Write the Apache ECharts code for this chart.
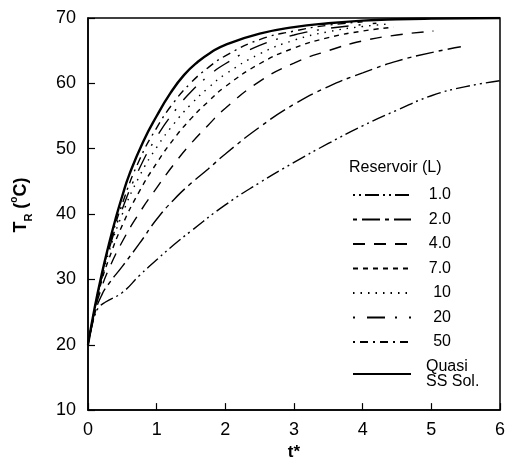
<!DOCTYPE html>
<html>
<head>
<meta charset="utf-8">
<script src="https://cdn.jsdelivr.net/npm/echarts@6/dist/echarts.min.js"></script>
<style>
  html, body { margin: 0; padding: 0; background: #fff; }
  #chart { width: 512px; height: 466px; }
</style>
</head>
<body>
<div id="chart"></div>
<script>
// Reservoir temperature T_R (°C) against dimensionless time t*
const seriesNames = ['1.0', '2.0', '4.0', '7.0', '10', '20', '50', 'Quasi SS Sol.'];

const res1 = [[0,20],[0.05,22.5],[0.1,24.5],[0.15,25.6],[0.25,26.5],[0.5,28],[0.75,30.6],[1,33],[1.25,35.3],[1.5,37.4],[2,41.4],[2.5,44.8],[3,47.9],[3.5,50.8],[4,53.5],[4.5,55.9],[5,58.1],[5.5,59.5],[6,60.4]];
const res2 = [[0,20],[0.1,24.8],[0.2,27.6],[0.3,29.3],[0.5,32],[0.75,35.5],[1,39.2],[1.25,42.2],[1.5,44.7],[1.75,46.9],[2,49.2],[2.5,53.3],[3,56.8],[3.5,59.5],[4,61.6],[4.5,63.4],[5,64.7],[5.43,65.6]];
const res4 = [[0,20],[0.1,25.2],[0.2,28.8],[0.3,31.5],[0.5,35.8],[0.75,40.2],[1,44],[1.25,47.6],[1.5,50.8],[1.75,53.6],[2,56.2],[2.5,60.3],[3,63.1],[3.5,65],[4,66.5],[4.5,67.4],[5.03,68]];
const res7 = [[0,20],[0.1,25.4],[0.2,29.8],[0.3,33],[0.5,38.3],[0.75,43.5],[1,47.8],[1.25,51.5],[1.5,54.6],[1.75,57.2],[2,59.5],[2.5,63],[3,65.4],[3.5,67],[4,68],[4.45,68.6]];
const res10 = [[0,20],[0.1,25.5],[0.2,30.1],[0.3,34],[0.5,40],[0.75,45.8],[1,50.2],[1.25,53.8],[1.5,56.8],[1.75,59.3],[2,61.4],[2.5,64.5],[3,66.6],[3.5,67.9],[4,68.7],[4.4,69.1]];
const res20 = [[0,20],[0.1,25.6],[0.2,30.3],[0.3,34.4],[0.5,40.8],[0.75,47],[1,51.8],[1.25,55.6],[1.5,58.7],[1.75,61.1],[2,63],[2.5,65.8],[3,67.4],[3.5,68.4],[4,69],[4.2,69.2]];
const res50 = [[0,20],[0.1,25.7],[0.2,30.5],[0.3,34.8],[0.5,41.6],[0.75,48.3],[1,53.2],[1.25,57.1],[1.5,60.1],[1.75,62.4],[2,64.2],[2.5,66.7],[3,68],[3.5,68.9],[4,69.4]];
const quasiSS = [[0,20],[0.1,25.8],[0.2,30.8],[0.3,35.2],[0.4,39.2],[0.5,42.8],[0.6,46],[0.8,51],[1,55],[1.2,58.5],[1.4,61.3],[1.6,63.3],[1.8,64.8],[2,65.9],[2.5,67.6],[3,68.6],[3.5,69.2],[4,69.6],[4.5,69.8],[5,69.9],[6,70]];

const seriesData = [res1, res2, res4, res7, res10, res20, res50, quasiSS];

// dash patterns per reservoir size
const dashTypes = [
  [2,4,2,4,14,4],   // 1.0  dash-dot-dot
  [4,5,18,5],       // 2.0  short + long dash
  [12,9],           // 4.0  medium dash
  [5,5],            // 7.0  short dash
  [1.5,6],          // 10   dotted
  [2,12,18,10],     // 20   dot + long dash
  [2,5,8,5],        // 50   dash-dot
  'solid'
];

const FONT = 'Liberation Sans, Arial, Helvetica, sans-serif';

const series = seriesNames.map((name, i) => ({
  name: name,
  type: 'line',
  data: seriesData[i],
  symbol: 'none',
  smooth: 0.5,
  lineStyle: {
    color: '#000',
    width: i === 7 ? 2.4 : 1.4,
    type: dashTypes[i]
  },
  itemStyle: { color: '#000' },
  z: i === 7 ? 3 : 2
}));

const chart = echarts.init(document.getElementById('chart'), null, { renderer: 'canvas' });
chart.setOption({
  animation: false,
  backgroundColor: '#fff',
  textStyle: { fontFamily: FONT, color: '#000' },
  title: {
    text: 'Reservoir (L)',
    left: 349,
    top: 160,
    padding: 0,
    textStyle: { fontFamily: FONT, fontSize: 16, fontWeight: 'normal', color: '#000' }
  },
  legend: {
    orient: 'vertical',
    left: 352,
    top: 187,
    padding: 0,
    itemWidth: 58,
    itemHeight: 14,
    itemGap: 8.5,
    data: seriesNames,
    itemStyle: { color: 'transparent', borderColor: 'transparent', borderWidth: 0, opacity: 0 },
    formatter: function (name) {
      return name === 'Quasi SS Sol.' ? '{q|Quasi}\n{q|SS Sol.}' : '{n|' + name + '}';
    },
    textStyle: {
      fontFamily: FONT,
      fontSize: 16,
      color: '#000',
      rich: {
        n: { fontFamily: FONT, fontSize: 16, width: 35, align: 'right' },
        q: { fontFamily: FONT, fontSize: 16, lineHeight: 15, padding: [0, 0, 0, 10] }
      }
    }
  },
  grid: {
    left: 88, right: 12, top: 18, bottom: 50,
    show: true, borderColor: '#000', borderWidth: 1.5, backgroundColor: 'transparent'
  },
  xAxis: {
    type: 'value',
    min: 0, max: 6, interval: 1,
    name: 't*',
    nameLocation: 'middle',
    nameGap: 33,
    nameTextStyle: { fontFamily: FONT, fontSize: 17, fontWeight: 'bold', color: '#000' },
    axisLine: { show: true, onZero: false, lineStyle: { color: '#000', width: 1.5 } },
    axisTick: { show: true, inside: true, length: 7, lineStyle: { color: '#000', width: 1.2 } },
    axisLabel: { margin: 11, fontFamily: FONT, fontSize: 18, color: '#000' },
    splitLine: { show: false }
  },
  yAxis: {
    type: 'value',
    min: 10, max: 70, interval: 10,
    name: '{t|T}{s|R}{t| (}{o|o}{t|C)}',
    nameLocation: 'middle',
    nameGap: 54,
    nameRotate: 90,
    nameTextStyle: {
      fontFamily: FONT, fontSize: 18, fontWeight: 'bold', color: '#000',
      padding: [0, 0, 0, 18],
      rich: {
        t: { fontFamily: FONT, fontSize: 18, fontWeight: 'bold', lineHeight: 25, verticalAlign: 'middle' },
        s: { fontFamily: FONT, fontSize: 11, fontWeight: 'bold', verticalAlign: 'bottom' },
        o: { fontFamily: FONT, fontSize: 10, fontWeight: 'bold', verticalAlign: 'top' }
      }
    },
    axisLine: { show: true, onZero: false, lineStyle: { color: '#000', width: 1.5 } },
    axisTick: { show: true, inside: true, length: 7, lineStyle: { color: '#000', width: 1.2 } },
    axisLabel: { margin: 12, fontFamily: FONT, fontSize: 18, color: '#000' },
    splitLine: { show: false }
  },
  series: series
});
</script>
</body>
</html>
